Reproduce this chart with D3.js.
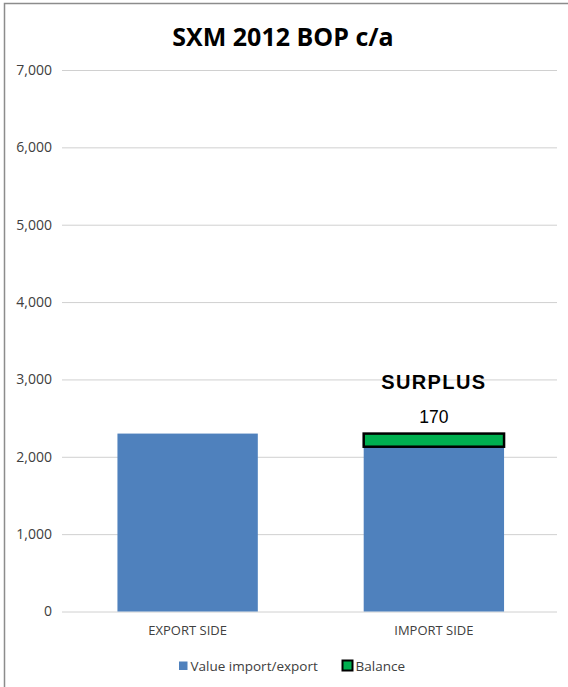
<!DOCTYPE html>
<html>
<head>
<meta charset="utf-8">
<script src="https://cdn.jsdelivr.net/npm/d3@7"></script>
<style>
	body { margin: 0; background: #fff; }
	svg { display: block; }
	.axis text { font-family: "Open Sans", sans-serif; font-size: 14px; fill: #404040; }
	.axis .tick line { stroke: #d0d0d0; }
	.axis path { display: none; }
</style>
</head>
<body>
<div id="chart"></div>
<script>
// data
var categories = ['EXPORT SIDE', 'IMPORT SIDE'];
var valueSeries = [2300, 2130];   // Value import/export
var balanceSeries = [0, 170];     // Balance (surplus) on top of import side
var yTicks = [0, 1000, 2000, 3000, 4000, 5000, 6000, 7000];
var seriesNames = ['Value import/export', 'Balance'];

var width = 568,
	height = 687,
	margin = { top: 70, right: 11, bottom: 75.5, left: 62 };

var svg = d3.select('#chart').append('svg')
	.attr('width', width)
	.attr('height', height);

// frame (left + top edges visible)
svg.append('path')
	.attr('d', 'M4.5,' + height + 'V3.5H' + width)
	.attr('fill', 'none')
	.attr('stroke', '#8c8c8c')
	.attr('stroke-width', 1.5);

var xScale = d3.scaleBand()
	.domain(categories)
	.range([64.5, width - margin.right])
	.paddingInner(0.43)
	.paddingOuter(0.215);

var yScale = d3.scaleLinear()
	.domain([0, 7000])
	.range([height - margin.bottom, margin.top]);

// y axis with gridlines
var yAxis = d3.axisLeft(yScale)
	.tickValues(yTicks)
	.tickFormat(d3.format(','))
	.tickSize(-(width - margin.right - margin.left))
	.tickPadding(10);

svg.append('g')
	.attr('class', 'axis y')
	.attr('transform', 'translate(' + margin.left + ',0)')
	.call(yAxis);

// x axis labels
var xAxis = d3.axisBottom(xScale).tickSize(0).tickPadding(14);
svg.append('g')
	.attr('class', 'axis x')
	.attr('transform', 'translate(0,' + yScale(0) + ')')
	.call(xAxis)
	.selectAll('text')
	.style('font-size', '13px');

// value bars
svg.append('g').selectAll('rect')
	.data(categories)
	.enter().append('rect')
	.attr('x', (d) => xScale(d))
	.attr('y', (d, i) => yScale(valueSeries[i]))
	.attr('width', xScale.bandwidth())
	.attr('height', (d, i) => yScale(0) - yScale(valueSeries[i]))
	.attr('fill', '#4f81bd');

// balance bars stacked on top
svg.append('g').selectAll('rect')
	.data(categories.filter((d, i) => balanceSeries[i] > 0))
	.enter().append('rect')
	.attr('x', (d) => xScale(d))
	.attr('y', (d) => { var i = categories.indexOf(d); return yScale(valueSeries[i] + balanceSeries[i]); })
	.attr('width', xScale.bandwidth())
	.attr('height', (d) => { var i = categories.indexOf(d); return yScale(valueSeries[i]) - yScale(valueSeries[i] + balanceSeries[i]); })
	.attr('fill', '#00b050')
	.attr('stroke', '#000')
	.attr('stroke-width', 2.5);

// balance value label + SURPLUS tag
categories.forEach(function(c, i) {
	if (!balanceSeries[i]) return;
	var cx = xScale(c) + xScale.bandwidth() / 2;
	var top = yScale(valueSeries[i] + balanceSeries[i]);
	svg.append('text')
		.attr('x', cx)
		.attr('y', top - 10.5)
		.attr('text-anchor', 'middle')
		.style('font-family', '"Liberation Sans", Arial, sans-serif')
		.style('font-size', '17.5px')
		.style('fill', '#000')
		.text(d3.format(',')(balanceSeries[i]));
	svg.append('text')
		.attr('x', cx)
		.attr('y', top - 44.5)
		.attr('text-anchor', 'middle')
		.style('font-family', '"Liberation Sans", Arial, sans-serif')
		.style('font-size', '20px')
		.style('font-weight', 'bold')
		.style('letter-spacing', '1.4px')
		.style('fill', '#000')
		.text('SURPLUS');
});

// title
svg.append('text')
	.attr('x', 283)
	.attr('y', 46)
	.attr('text-anchor', 'middle')
	.style('font-family', '"Open Sans", sans-serif')
	.style('font-size', '25px')
	.style('font-weight', 'bold')
	.style('fill', '#000')
	.text('SXM 2012 BOP c/a');

// legend
var legend = svg.append('g').attr('transform', 'translate(179,0)');
var legendX = [0, 163];
seriesNames.forEach(function(name, i) {
	var g = legend.append('g').attr('transform', 'translate(' + legendX[i] + ',0)');
	if (i === 0) {
		g.append('rect').attr('x', 0).attr('y', 661.5).attr('width', 8.5).attr('height', 8.5).attr('fill', '#4f81bd');
	} else {
		g.append('rect').attr('x', 0.5).attr('y', 660.5).attr('width', 10).attr('height', 10)
			.attr('fill', '#00b050').attr('stroke', '#000').attr('stroke-width', 2);
	}
	g.append('text')
		.attr('x', i === 0 ? 11.5 : 13.5)
		.attr('y', 670.5)
		.style('font-family', '"Open Sans", sans-serif')
		.style('font-size', '13.5px')
		.style('fill', '#404040')
		.text(name);
});
</script>
</body>
</html>
